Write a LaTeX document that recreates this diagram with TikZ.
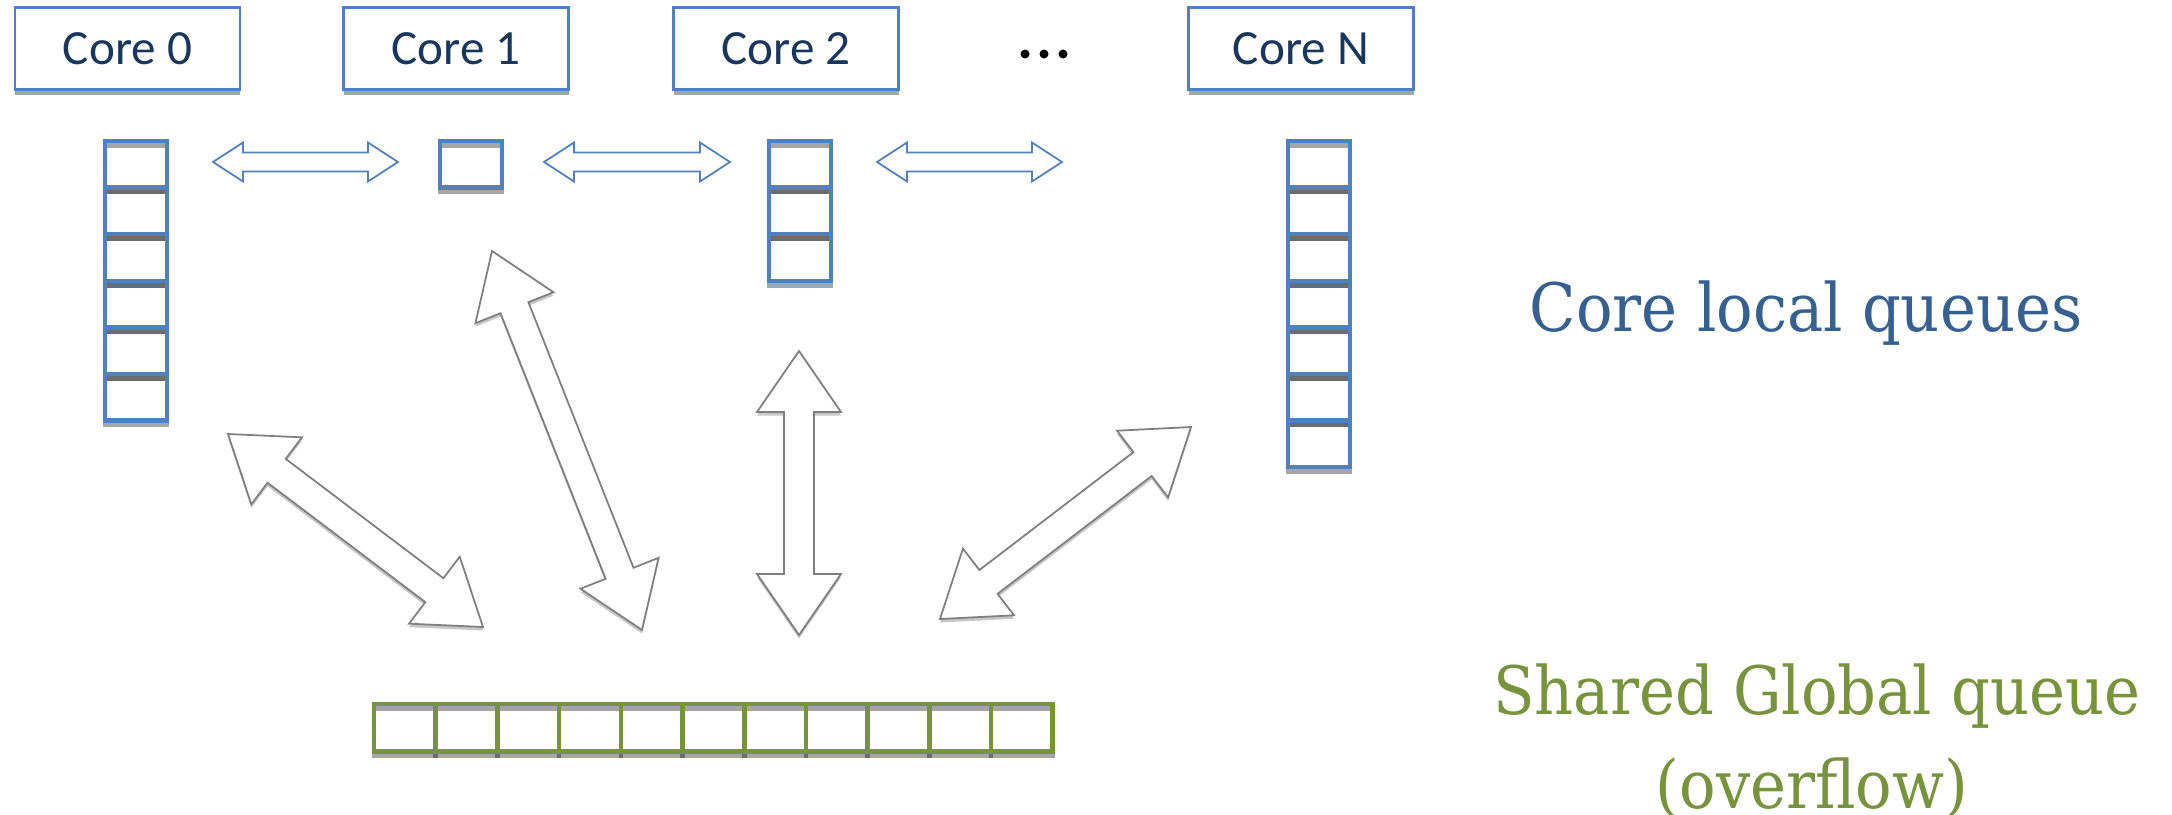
\documentclass[tikz,border=0pt]{standalone}
\usepackage{fontspec}
\setmainfont{Carlito}
\newfontfamily\labelfont[FakeStretch=0.91]{DejaVu Serif}
\usetikzlibrary{calc,shadows}

\definecolor{qblue}{HTML}{4F81BD}
\definecolor{corenavy}{HTML}{17375E}
\definecolor{localblue}{HTML}{366092}
\definecolor{qgreen}{HTML}{77933C}
\definecolor{arrowgray}{HTML}{7F7F7F}

% #1 style, #2/#3 the two tips, #4 shaft half width, #5 head half width, #6 head length
\newcommand{\blockarrow}[6]{%
	\coordinate (ba1) at ($(#2)!#6!(#3)$);
	\coordinate (ba2) at ($(#3)!#6!(#2)$);
	\draw[#1] (#2) -- ($(ba1)!#5!90:(#3)$) -- ($(ba1)!#4!90:(#3)$)
		-- ($(ba2)!#4!-90:(#2)$) -- ($(ba2)!#5!-90:(#2)$) -- (#3)
		-- ($(ba2)!#5!90:(#2)$) -- ($(ba2)!#4!90:(#2)$)
		-- ($(ba1)!#4!-90:(#3)$) -- ($(ba1)!#5!-90:(#3)$) -- cycle;
}

\begin{document}
\begin{tikzpicture}[
	core/.style={draw=qblue, line width=0.6pt, fill=white, text=corenavy,
		minimum width=2.25cm, minimum height=0.82cm, font=\fontsize{14}{16}\selectfont,
		drop shadow={shadow xshift=0pt, shadow yshift=-0.05cm, fill=black, opacity=.35}},
	cellshadow/.style={draw=black, opacity=.35, line width=1.3pt},
	localcell/.style={draw=qblue, line width=1.3pt},
	globalcell/.style={draw=qgreen, line width=1.3pt},
	swaparrow/.style={draw=qblue, line width=0.5pt, fill=white, line join=miter},
	fetcharrow/.style={draw=arrowgray, line width=0.5pt, fill=white, line join=miter,
		drop shadow={shadow xshift=0pt, shadow yshift=-0.035cm, fill=black!22, opacity=1}},
	biglabel/.style={font=\labelfont\fontsize{19}{23}\selectfont, anchor=base, inner sep=0pt}]
	\useasboundingbox (0,0) rectangle (21.72,-8.14);

	\node[core] (core0) at (1.275,-0.485) {Core 0};
	\node[core] (core1) at (4.56,-0.485) {Core 1};
	\node[core] (core2) at (7.86,-0.485) {Core 2};
	\node[core] (coreN) at (13.01,-0.485) {Core N};
	\foreach \x in {10.25,10.44,10.63}
		\fill (\x,-0.54) circle [radius=0.045];

	\foreach \x/\n in {1.05/6, 4.40/1, 7.69/3, 12.88/7}
		\foreach \i in {1,...,\n} {
			\draw[cellshadow] (\x,{-1.455-0.466*(\i-1)}) rectangle ++(0.62,-0.466);
			\draw[localcell] (\x,{-1.41-0.466*(\i-1)}) rectangle ++(0.62,-0.466);
		}

	\foreach \i in {0,...,10} {
		\draw[cellshadow] ({3.74+0.617*\i},-7.085) rectangle ++(0.617,-0.475);
		\draw[globalcell] ({3.74+0.617*\i},-7.04) rectangle ++(0.617,-0.475);
	}

	\coordinate (s0) at (2.13,-1.62);
	\coordinate (s1) at (3.98,-1.62);
	\coordinate (s2) at (5.44,-1.62);
	\coordinate (s3) at (7.30,-1.62);
	\coordinate (s4) at (8.77,-1.62);
	\coordinate (s5) at (10.62,-1.62);
	\blockarrow{swaparrow}{s0}{s1}{0.095cm}{0.195cm}{0.30cm}
	\blockarrow{swaparrow}{s2}{s3}{0.095cm}{0.195cm}{0.30cm}
	\blockarrow{swaparrow}{s4}{s5}{0.095cm}{0.195cm}{0.30cm}

	\coordinate (f0) at (2.28,-4.34);
	\coordinate (g0) at (4.83,-6.27);
	\coordinate (f1) at (4.92,-2.51);
	\coordinate (g1) at (6.42,-6.30);
	\coordinate (f2) at (7.99,-3.51);
	\coordinate (g2) at (7.99,-6.35);
	\coordinate (fN) at (11.91,-4.27);
	\coordinate (gN) at (9.40,-6.19);
	\foreach \q in {0,1,2,N} {
		\blockarrow{fetcharrow}{f\q}{g\q}{0.15cm}{0.42cm}{0.61cm}
	}

	\node[biglabel, text=localblue] (locallabel) at (18.06,-3.31) {Core local queues};
	\node[biglabel, text=qgreen] (globallabel) at (18.17,-7.14) {Shared Global queue};
	\node[biglabel, text=qgreen] (overflowlabel) at (18.12,-8.08) {(overflow)};
\end{tikzpicture}
\end{document}
